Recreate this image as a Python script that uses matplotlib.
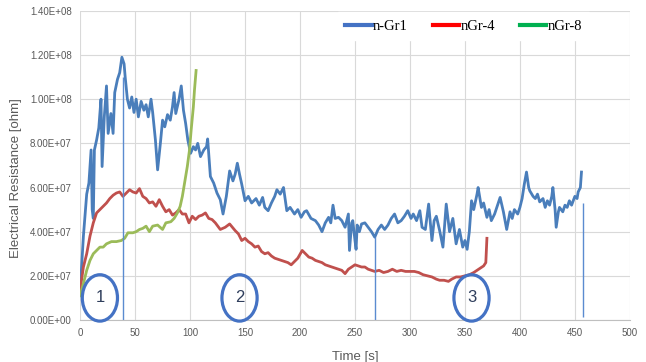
import numpy as np
import matplotlib.pyplot as plt
from matplotlib.patches import Ellipse
from matplotlib.lines import Line2D
from matplotlib.ticker import FuncFormatter

plt.rcParams['font.family'] = ['Liberation Sans', 'DejaVu Sans']

# n-Gr1 (blue), values in 1e7 ohm
t_gr1 = [0, 3, 6, 8, 10, 11, 12, 13, 15, 17, 19, 20, 22, 24, 25.5, 28, 30, 31.5, 34, 36,
         38, 40, 41, 43, 45, 47, 49, 51, 53, 55.5, 58, 60, 62, 64.5, 66, 68.5, 70.5, 73, 75, 77,
         79.5, 82, 84, 85.5, 87, 90, 92, 94, 96, 98, 100.5, 103, 105, 107, 109.5, 112.5, 115, 116, 118.5, 121.5,
         124.5, 127.5, 130, 133, 136, 139, 141, 143, 145, 147, 150, 153, 156, 160, 163, 166, 168, 171, 174, 177,
         179, 182, 185, 188, 191, 195, 198, 201, 204, 206, 210, 214, 217, 220, 223, 226, 228, 230, 232, 235,
         238, 241, 243, 244, 245, 247, 248, 250, 251, 252, 254, 256, 259, 262, 265, 268, 271, 274, 277, 280,
         283, 286, 289, 292, 295, 298, 301, 303, 306, 309, 311, 314, 317, 320, 322, 324, 327, 330, 333, 336,
         339, 342, 345, 348, 350, 352, 354, 356, 358, 361, 362, 365, 367, 370, 372, 374, 377, 379, 382, 385,
         388, 391, 393, 395, 398, 400, 402, 404, 406, 408, 409, 412, 414, 416, 418, 421, 423, 425, 427, 429,
         430, 432, 433, 435, 436, 439, 441, 443, 445, 447, 450, 452, 453, 455, 456]
r_gr1 = [1.25, 3.8, 5.7, 6.2, 7.7, 5.0, 4.6, 7.7, 8.15, 8.7, 10.0, 6.95, 9.2, 10.6, 8.45, 9.35, 8.45, 10.3, 10.9, 11.2,
         11.9, 11.6, 11.0, 10.0, 9.6, 10.1, 9.4, 10.0, 9.2, 9.9, 9.5, 9.75, 9.2, 10.0, 9.4, 8.15, 6.8, 8.0, 9.05, 8.75,
         9.3, 9.05, 9.65, 10.3, 9.35, 10.0, 10.6, 9.5, 8.9, 8.15, 7.55, 7.85, 7.7, 8.0, 7.4, 7.7, 7.85, 8.2, 6.5, 6.2,
         5.75, 5.45, 4.8, 5.6, 6.75, 6.3, 6.6, 7.1, 6.6, 6.15, 5.4, 5.6, 5.3, 5.5, 5.2, 5.55, 5.1, 4.95, 5.3, 5.6,
         5.9, 5.7, 6.0, 4.95, 5.1, 4.8, 5.0, 4.65, 4.9, 4.95, 4.6, 4.5, 4.3, 4.0, 4.4, 4.65, 4.4, 5.2, 4.6, 4.65,
         4.5, 4.2, 4.6, 4.8, 3.15, 4.4, 4.5, 3.6, 3.2, 4.3, 4.0, 4.35, 4.4, 4.2, 4.0, 3.75, 4.1, 4.3, 4.1, 4.3,
         4.6, 4.8, 4.4, 4.5, 4.7, 4.95, 4.6, 4.8, 4.5, 4.95, 4.2, 4.1, 5.25, 3.6, 4.5, 4.7, 4.05, 3.3, 5.25, 4.0,
         4.6, 3.45, 4.1, 3.3, 3.6, 3.2, 4.0, 5.4, 5.0, 5.7, 6.0, 5.1, 5.3, 4.65, 5.0, 4.5, 4.8, 5.1, 5.55, 4.9,
         4.1, 4.9, 4.6, 5.0, 4.8, 5.1, 5.5, 6.15, 6.7, 6.0, 5.85, 5.6, 5.5, 5.7, 5.35, 5.5, 5.1, 5.4, 5.2, 5.6,
         6.0, 5.0, 4.2, 4.9, 5.1, 4.9, 5.2, 5.1, 5.4, 5.2, 5.6, 5.5, 5.8, 6.0, 6.7]

# nGr-4 (red)
t_gr4 = [0, 3, 6, 9, 12, 15, 18, 21, 24, 27, 30, 33, 36, 39, 42, 45, 48, 51, 54, 57,
         60, 63, 66, 69, 72, 75, 78, 81, 84, 87, 90, 93, 96, 99, 102, 105, 108, 111, 114, 117,
         120, 123, 127.5, 132, 136, 141, 144, 147, 150, 153, 156, 159, 162, 165, 168, 171, 174, 177, 180, 183,
         186, 189, 192, 195, 198, 202, 205, 208, 211, 214, 217, 220, 223, 226, 229, 232, 235, 238, 241, 244,
         247, 250, 253, 256, 259, 262, 265, 268, 272, 276, 280, 284, 288, 292, 296, 300, 304, 308, 312, 316,
         320, 324, 327, 331, 335, 338, 342, 346, 350, 354, 358, 361, 364, 367, 369, 370]
r_gr4 = [1.35, 2.4, 3.0, 3.8, 4.4, 4.85, 5.0, 5.15, 5.3, 5.5, 5.65, 5.75, 5.8, 5.6, 5.75, 5.9, 5.8, 5.75, 5.95, 5.6,
         5.5, 5.3, 5.35, 5.15, 5.45, 5.15, 4.9, 5.0, 4.75, 4.85, 5.0, 4.8, 4.8, 4.4, 4.7, 4.55, 4.7, 4.75, 4.85, 4.6,
         4.55, 4.4, 4.1, 4.2, 4.35, 4.05, 3.9, 3.6, 3.7, 3.55, 3.45, 3.3, 3.35, 3.1, 3.0, 3.05, 2.9, 2.8, 2.75, 2.7,
         2.65, 2.6, 2.5, 2.65, 2.8, 3.15, 3.0, 2.85, 2.8, 2.7, 2.65, 2.6, 2.5, 2.45, 2.4, 2.35, 2.3, 2.25, 2.1, 2.3,
         2.4, 2.5, 2.45, 2.4, 2.4, 2.3, 2.25, 2.2, 2.25, 2.15, 2.2, 2.3, 2.2, 2.25, 2.2, 2.2, 2.2, 2.15, 2.05, 2.0,
         1.95, 1.85, 1.8, 1.8, 1.75, 1.85, 1.95, 1.95, 2.0, 2.05, 2.15, 2.25, 2.35, 2.45, 2.6, 3.7]

# nGr-8 (green)
t_gr8 = [0, 3, 6, 9, 12, 15, 18, 21, 24, 28.5, 33, 37.5, 40.5, 43.5, 48, 51, 54, 57, 60, 63,
         66, 70.5, 75, 78, 82.5, 85.5, 88.5, 91, 93, 95, 97.5, 99.5, 101, 103, 104, 105.5]
r_gr8 = [1.1, 1.65, 2.25, 2.7, 3.0, 3.15, 3.3, 3.3, 3.45, 3.55, 3.55, 3.6, 3.7, 3.95, 3.95, 4.0, 4.1, 4.15, 4.25, 4.0,
         4.25, 4.3, 4.1, 4.4, 4.45, 4.6, 4.85, 5.15, 5.6, 6.2, 6.95, 7.7, 8.6, 9.65, 10.4, 11.3]

# thin vertical markers
mark_t = [39, 268, 457]
mark_lo = [0, 0, 0.15]
mark_hi = [11.0, 3.75, 5.3]

# numbered stage circles
stage_t = [18, 145, 356]
stage_lbl = ['1', '2', '3']

fig = plt.figure(figsize=(6.46, 3.62), dpi=100)
ax = fig.add_axes([0.124, 0.116, 0.851, 0.854])

s = 1e7
ax.plot(t_gr1, np.array(r_gr1) * s, color='#4A7EBB', lw=2.0)
ax.plot(t_gr4, np.array(r_gr4) * s, color='#C0504D', lw=2.0)
ax.plot(t_gr8, np.array(r_gr8) * s, color='#9BBB59', lw=2.0)
ax.vlines(mark_t, np.array(mark_lo) * s, np.array(mark_hi) * s, color='#5B8BD0', lw=1)

for x, lbl in zip(stage_t, stage_lbl):
    ax.add_patch(Ellipse((x, 1.0e7), 32, 2.1e7, fill=False, ec='#4472C4', lw=2.3, clip_on=False, zorder=5))
    ax.text(x, 1.0e7, lbl, ha='center', va='center', fontsize=12, color='#2F3E5C', zorder=6)

ax.set_xlim(0, 500)
ax.set_ylim(0, 1.4e8)
ax.set_xticks(range(0, 501, 50))
ax.set_yticks(np.arange(0, 1.41e8, 2e7))
ax.yaxis.set_major_formatter(FuncFormatter(lambda v, p: '%.2E' % v))
ax.grid(color='#D9D9D9', lw=0.8)
ax.set_axisbelow(True)
for side in ['top', 'right', 'left']:
    ax.spines[side].set_visible(False)
ax.spines['bottom'].set_color('#BFBFBF')
ax.tick_params(length=0, labelsize=7, labelcolor='#595959', pad=6)
ax.set_xlabel('Time [s]', fontsize=9.5, color='#595959')
ax.set_ylabel('Electrical Resistance [ohm]', fontsize=9.5, color='#595959')
ax.xaxis.set_label_coords(0.5, -0.1)
ax.yaxis.set_label_coords(-0.105, 0.46)

handles = [Line2D([], [], color='#4472C4', lw=3),
           Line2D([], [], color='#FF0000', lw=3),
           Line2D([], [], color='#00B050', lw=3)]
leg = ax.legend(handles, ['n-Gr1', 'nGr-4', 'nGr-8'], ncol=3, loc='center left',
                bbox_to_anchor=(0.456, 0.951), frameon=True, fancybox=False, edgecolor='white',
                framealpha=1, prop={'family': 'Liberation Serif', 'size': 10.5},
                handlelength=1.8, handletextpad=0.1, columnspacing=1.7, borderpad=0.5)

fig.savefig('out.png', dpi=100)
